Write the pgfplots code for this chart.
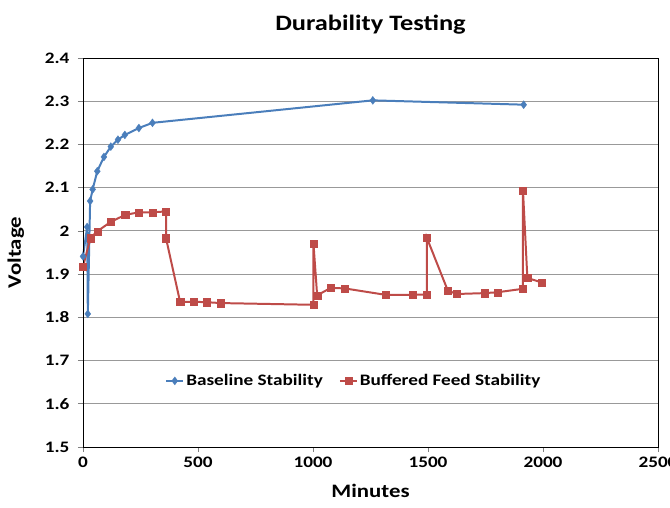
\documentclass[border=0pt]{standalone}
\usepackage{fontspec}
\setmainfont[FakeStretch=1.2]{Carlito}
\usepackage{pgfplots}
\pgfplotsset{compat=1.18}

\definecolor{baseblue}{RGB}{74,126,187}
\definecolor{bufred}{RGB}{190,75,72}

\begin{document}
\begin{tikzpicture}
\begin{axis}[
    scale only axis,
    width=575bp, height=389bp,
    xmin=0, xmax=2500,
    ymin=1.5, ymax=2.4,
    xtick={0,500,...,2500},
    ytick={1.5,1.6,...,2.41},
    /pgf/number format/assume math mode=true,
    /pgf/number format/precision=1,
    /pgf/number format/set thousands separator={},
    tick label style={font=\fontsize{16bp}{18bp}\selectfont\bfseries},
    yticklabel style={xshift=-5bp},
    xticklabel style={yshift=-1bp},
    xtick pos=left, ytick pos=left,
    tick align=outside,
    major tick length=5bp,
    tick style={gray, line width=0.6pt},
    axis line style={black, line width=0.9pt},
    ymajorgrids=true,
    grid style={gray!80, line width=0.8pt},
    title={Durability Testing},
    title style={font=\fontsize{22bp}{26bp}\selectfont\bfseries, yshift=14bp},
    xlabel={Minutes},
    ylabel={Voltage},
    xlabel style={font=\fontsize{19bp}{22bp}\selectfont\bfseries, yshift=-10bp},
    ylabel style={font=\fontsize{19bp}{22bp}\selectfont\bfseries, yshift=14bp},
    legend columns=2,
    legend style={at={(0.471,0.17)}, anchor=center, draw=none, fill=none,
        font=\fontsize{16bp}{18bp}\selectfont\bfseries,
        /tikz/every even column/.append style={column sep=14bp}},
    clip=false,
]

\addplot[color=baseblue, line width=2pt, mark=diamond*, mark size=4bp,
    mark options={fill=baseblue, line width=0.3pt}]
    coordinates {
    (0,1.941)(18,2.009)(21,1.808)(31,2.069)(42,2.096)(62,2.138)(91,2.171)
    (121,2.195)(152,2.211)(182,2.222)(243,2.238)(302,2.250)(1260,2.302)(1916,2.292)
    };
\addlegendentry{Baseline Stability}

\addplot[color=bufred, line width=2pt, mark=square*, mark size=3.6bp,
    mark options={fill=bufred, line width=0.3pt}]
    coordinates {
    (0,1.917)(32,1.983)(62,1.999)(121,2.021)(183,2.037)(243,2.043)(302,2.043)
    (361,2.045)(361,1.983)(422,1.836)(481,1.836)(539,1.835)(599,1.833)
    (1002,1.829)(1002,1.971)(1018,1.851)(1077,1.868)(1137,1.867)(1316,1.852)
    (1434,1.852)(1495,1.853)(1495,1.984)(1586,1.862)(1625,1.854)(1745,1.856)
    (1802,1.858)(1913,1.866)(1913,2.093)(1932,1.891)(1993,1.881)
    };
\addlegendentry{Buffered Feed Stability}

\draw[black, line width=0.9pt] (rel axis cs:0,0) rectangle (rel axis cs:1,1);
\end{axis}
\pgfresetboundingbox
\useasboundingbox ([shift={(-83bp,-61bp)}]current axis.south west)
    rectangle ([shift={(12bp,58bp)}]current axis.north east);
\end{tikzpicture}
\end{document}
